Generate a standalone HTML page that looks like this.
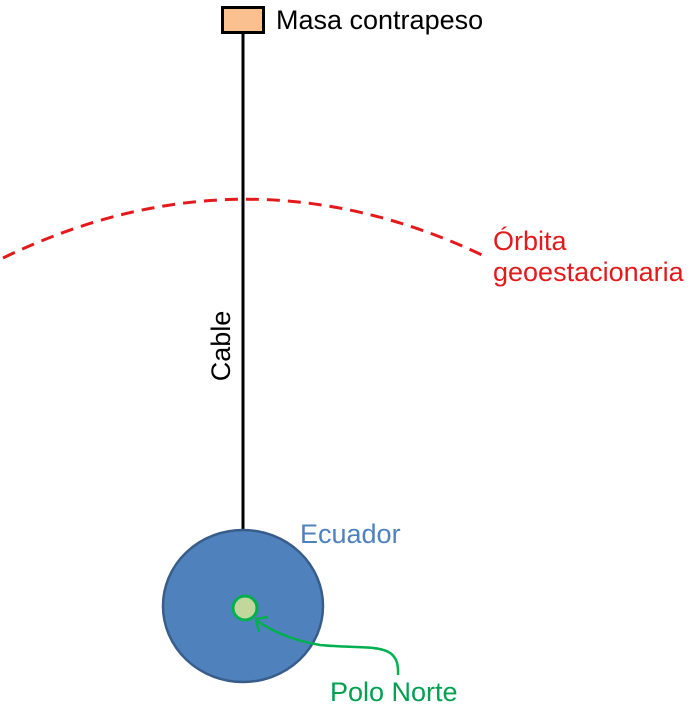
<!DOCTYPE html>
<html><head><meta charset="utf-8"><style>
html,body{margin:0;padding:0;background:#fff;}
svg{display:block;}
text{font-family:"Liberation Sans",sans-serif;font-size:27px;}
</style></head><body>
<svg width="696" height="718" viewBox="0 0 696 718" xmlns="http://www.w3.org/2000/svg">
<line x1="243" y1="32" x2="243" y2="532" stroke="#000" stroke-width="3"/>
<rect x="222.5" y="7.5" width="41" height="25" fill="#fac090" stroke="#000" stroke-width="3"/>
<text x="276" y="29" fill="#000">Masa contrapeso</text>
<path d="M3,258 Q243,142 482,255" fill="none" stroke="#e31a1c" stroke-width="3" stroke-dasharray="13,8"/>
<text x="493" y="250" fill="#e31a1c">Órbita</text>
<text x="493" y="281" fill="#e31a1c">geoestacionaria</text>
<text transform="translate(230,346) rotate(-90)" text-anchor="middle" fill="#000">Cable</text>
<ellipse cx="243" cy="606" rx="80" ry="76" fill="#4f81bd" stroke="#385d8a" stroke-width="2.5"/>
<text x="300" y="543" fill="#4f81bd">Ecuador</text>
<circle cx="245" cy="608" r="12" fill="#c3d69b" stroke="#00b050" stroke-width="3"/>
<path d="M398,675 C400,640 370,650 320,645 C290,640 270,630 256,620" fill="none" stroke="#00b050" stroke-width="2.5"/>
<path d="M268,617 L256,619 L259,632" fill="none" stroke="#00b050" stroke-width="2.5"/>
<text x="330" y="701" fill="#00a050">Polo Norte</text>
</svg>
</body></html>
